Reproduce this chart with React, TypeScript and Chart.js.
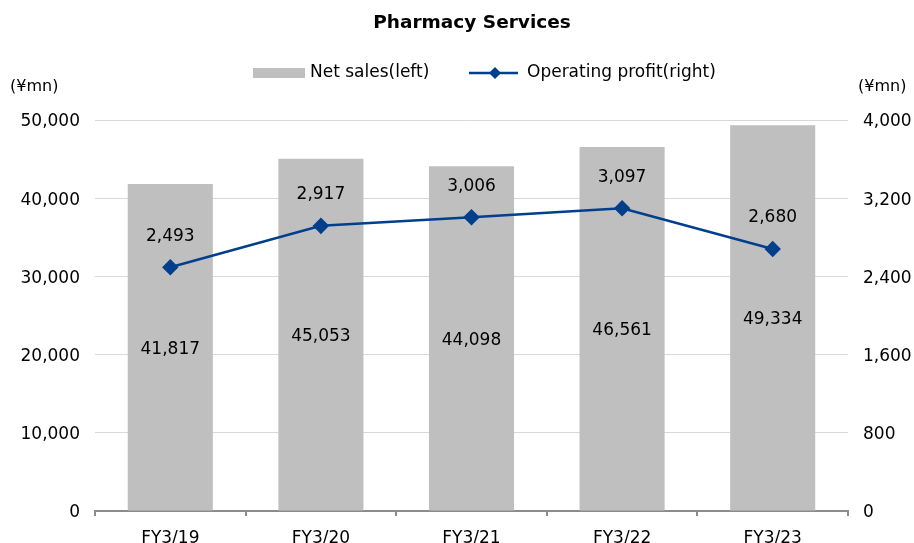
import React, { useEffect, useRef } from "react";
import { Chart, registerables } from "chart.js";

Chart.register(...registerables);

const categories = ["FY3/19", "FY3/20", "FY3/21", "FY3/22", "FY3/23"];
const netSales = [41817, 45053, 44098, 46561, 49334];
const operatingProfit = [2493, 2917, 3006, 3097, 2680];
const leftTicks = [0, 10000, 20000, 30000, 40000, 50000];
const rightTicks = [0, 800, 1600, 2400, 3200, 4000];

const FONT = "'DejaVu Sans', sans-serif";
const BAR_COLOR = "#bfbfbf";
const LINE_COLOR = "#003f8c";
const fmt = (v: number) => v.toLocaleString("en-US");

const overlayPlugin = {
  id: "overlay",
  afterDatasetsDraw(chart: any) {
    const ctx = chart.ctx;
    ctx.save();
    ctx.fillStyle = "#000";
    ctx.font = `17px ${FONT}`;
    ctx.textAlign = "center";
    ctx.textBaseline = "middle";
    const barMeta = chart.getDatasetMeta(0);
    barMeta.data.forEach((bar: any, i: number) => {
      const y = (bar.y + bar.base) / 2;
      ctx.fillText(fmt(netSales[i]), bar.x, y + 2);
    });
    const lineMeta = chart.getDatasetMeta(1);
    lineMeta.data.forEach((pt: any, i: number) => {
      ctx.fillText(fmt(operatingProfit[i]), pt.x, pt.y - 31);
    });
    ctx.restore();
  },
  afterDraw(chart: any) {
    const ctx = chart.ctx;
    ctx.save();
    // Title
    ctx.fillStyle = "#000";
    ctx.font = `bold 18.5px ${FONT}`;
    ctx.textAlign = "center";
    ctx.textBaseline = "middle";
    ctx.fillText("Pharmacy Services", 472, 23);
    // Axis unit labels
    ctx.font = `16px ${FONT}`;
    ctx.textAlign = "left";
    ctx.fillText("(¥mn)", 10, 87);
    ctx.fillText("(¥mn)", 858, 87);
    // Legend
    ctx.fillStyle = BAR_COLOR;
    ctx.fillRect(253, 68, 52, 10);
    ctx.fillStyle = "#000";
    ctx.font = `17px ${FONT}`;
    ctx.fillText("Net sales(left)", 310, 73);
    ctx.strokeStyle = LINE_COLOR;
    ctx.lineWidth = 2.5;
    ctx.beginPath();
    ctx.moveTo(469, 73);
    ctx.lineTo(518, 73);
    ctx.stroke();
    ctx.fillStyle = LINE_COLOR;
    ctx.beginPath();
    ctx.moveTo(495, 67);
    ctx.lineTo(501, 73);
    ctx.lineTo(495, 79);
    ctx.lineTo(489, 73);
    ctx.closePath();
    ctx.fill();
    ctx.fillStyle = "#000";
    ctx.fillText("Operating profit(right)", 527, 73);
    ctx.restore();
  },
};

export default function App() {
  const ref = useRef<HTMLCanvasElement | null>(null);
  useEffect(() => {
    if (!ref.current) return;
    const chart = new Chart(ref.current, {
      type: "bar",
      data: {
        labels: categories,
        datasets: [
          {
            type: "bar",
            label: "Net sales(left)",
            data: netSales,
            backgroundColor: BAR_COLOR,
            yAxisID: "y",
            categoryPercentage: 1,
            barPercentage: 0.565,
            order: 2,
          },
          {
            type: "line",
            label: "Operating profit(right)",
            data: operatingProfit,
            borderColor: LINE_COLOR,
            backgroundColor: LINE_COLOR,
            borderWidth: 2.5,
            pointStyle: "rectRot",
            pointRadius: 6.5,
            pointHoverRadius: 6.5,
            yAxisID: "y1",
            order: 1,
          },
        ] as any,
      },
      options: {
        responsive: false,
        animation: false,
        layout: { padding: { top: 120, left: 0, right: 0, bottom: 0 } },
        plugins: {
          legend: { display: false },
          title: { display: false },
          tooltip: { enabled: false },
        },
        scales: {
          x: {
            offset: true,
            grid: {
              offset: true,
              drawOnChartArea: false,
              drawTicks: true,
              tickLength: 5,
              color: "#8c8c8c",
              lineWidth: 2,
            },
            border: { display: true, color: "#8c8c8c", width: 2 },
            ticks: {
              color: "#000",
              font: { family: FONT, size: 17 },
              padding: 12,
            },
            afterFit: (s: any) => {
              s.height = 32;
            },
          },
          y: {
            position: "left",
            min: 0,
            max: 50000,
            afterBuildTicks: (s: any) => {
              s.ticks = leftTicks.map((v) => ({ value: v }));
            },
            grid: { color: "#d9d9d9", drawTicks: false, lineWidth: 1 },
            border: { display: false },
            ticks: {
              color: "#000",
              font: { family: FONT, size: 17 },
              padding: 15,
              labelOffset: 2,
              callback: (v: any) => fmt(Number(v)),
            },
            afterFit: (s: any) => {
              s.width = 95;
            },
          },
          y1: {
            position: "right",
            min: 0,
            max: 4000,
            afterBuildTicks: (s: any) => {
              s.ticks = rightTicks.map((v) => ({ value: v }));
            },
            grid: { drawOnChartArea: false, drawTicks: false },
            border: { display: false },
            ticks: {
              color: "#000",
              font: { family: FONT, size: 17 },
              padding: 15,
              labelOffset: 2,
              callback: (v: any) => fmt(Number(v)),
            },
            afterFit: (s: any) => {
              s.width = 66;
            },
          },
        },
      },
      plugins: [overlayPlugin],
    });
    return () => chart.destroy();
  }, []);
  return (
    <div style={{ position: "absolute", left: 0, top: 0, width: 914, height: 543, background: "#fff" }}>
      <canvas ref={ref} width={914} height={543} style={{ display: "block" }} />
    </div>
  );
}
